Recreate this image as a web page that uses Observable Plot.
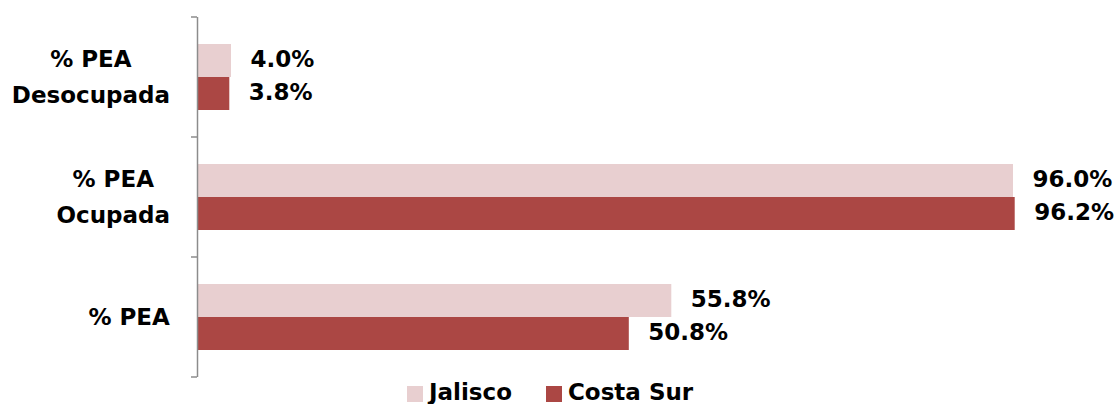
<!DOCTYPE html>
<html>
<head>
<meta charset="utf-8">
<script src="https://cdn.jsdelivr.net/npm/d3@7"></script>
<script src="https://cdn.jsdelivr.net/npm/@observablehq/plot@0.6"></script>
<style>
  html, body { margin: 0; padding: 0; background: #fff; }
  body { width: 1118px; height: 404px; overflow: hidden; font-family: "DejaVu Sans", sans-serif; }
  #chart svg { display: block; }
  #legend { display: flex; align-items: center; margin-left: 407px; margin-top: 0px; height: 24px; line-height: 23px; font-weight: 700; font-size: 23px; color: #000; }
  .item { display: flex; align-items: center; margin-right: 34px; }
  .sw { width: 16px; height: 16px; margin-right: 6px; margin-top: 3px; }
</style>
</head>
<body>
<div id="chart"></div>
<div id="legend"></div>
<script>
const categories = ["% PEA\nDesocupada", "% PEA\nOcupada", "% PEA"];
const series = ["Jalisco", "Costa Sur"];
const jalisco = [4.0, 96.0, 55.8];
const costaSur = [3.8, 96.2, 50.8];
const colors = ["#e8cfd0", "#ab4744"];

const data = categories.flatMap((c, i) => [
  {cat: c, serie: series[0], value: jalisco[i]},
  {cat: c, serie: series[1], value: costaSur[i]}
]);

const font = "'DejaVu Sans', sans-serif";

const plot = Plot.plot({
  width: 1118,
  height: 380,
  marginLeft: 197,
  marginRight: 71,
  marginTop: 16,
  marginBottom: 3,
  style: {fontFamily: font, background: "#fff"},
  x: {domain: [0, 100], axis: null},
  y: {domain: series, axis: null, paddingInner: 0, paddingOuter: 0.765},
  fy: {domain: categories, padding: 0, axis: null},
  color: {domain: series, range: colors},
  marks: [
    Plot.barX(data, {fy: "cat", y: "serie", x: "value", fill: "serie"}),
    Plot.text(data, {
      fy: "cat", y: "serie", x: "value",
      text: d => d.value.toFixed(1) + "%",
      textAnchor: "start", dx: 19, dy: -1,
      fontSize: 23, fontWeight: 700, fill: "#000"
    }),
    Plot.ruleX([0], {stroke: "#8c8c8c", strokeWidth: 1.5}),
    Plot.text(categories, {
      fy: d => d, text: d => d, frameAnchor: "left",
      textAnchor: "middle", lineAnchor: "middle", lineHeight: 1.54, dy: -4,
      fontSize: 23, fontWeight: 700, fill: "#000",
      className: "catlabel"
    })
  ]
});

document.getElementById("chart").appendChild(plot);

// tick marks at category boundaries on the vertical axis line
const fy = plot.scale("fy");
const xs = plot.scale("x");
const x0 = xs.apply(0);
const svg = d3.select(plot);
const bounds = categories.map(c => fy.apply(c)).concat([fy.apply(categories[categories.length - 1]) + fy.bandwidth]);
svg.append("g").selectAll("line").data(bounds).join("line")
  .attr("x1", x0 - 6).attr("x2", x0).attr("y1", d => d).attr("y2", d => d)
  .attr("stroke", "#8c8c8c").attr("stroke-width", 1.5);

// right-align category label blocks at the left of the axis (lines centered within each block)
const rightEdge = x0 - 27;
const svgRect = plot.getBoundingClientRect();
svg.selectAll("g.catlabel text").each(function() {
  const r = this.getBoundingClientRect();
  const cx = r.left + r.width / 2 - svgRect.left;
  const shift = (rightEdge - r.width / 2) - cx;
  const t = this.getAttribute("transform") || "";
  this.setAttribute("transform", `translate(${shift},0) ` + t);
});

// legend
const legend = d3.select("#legend");
series.forEach((s, i) => {
  const it = legend.append("div").attr("class", "item");
  it.append("div").attr("class", "sw").style("background", colors[i]);
  it.append("span").text(s);
});
</script>
</body>
</html>
